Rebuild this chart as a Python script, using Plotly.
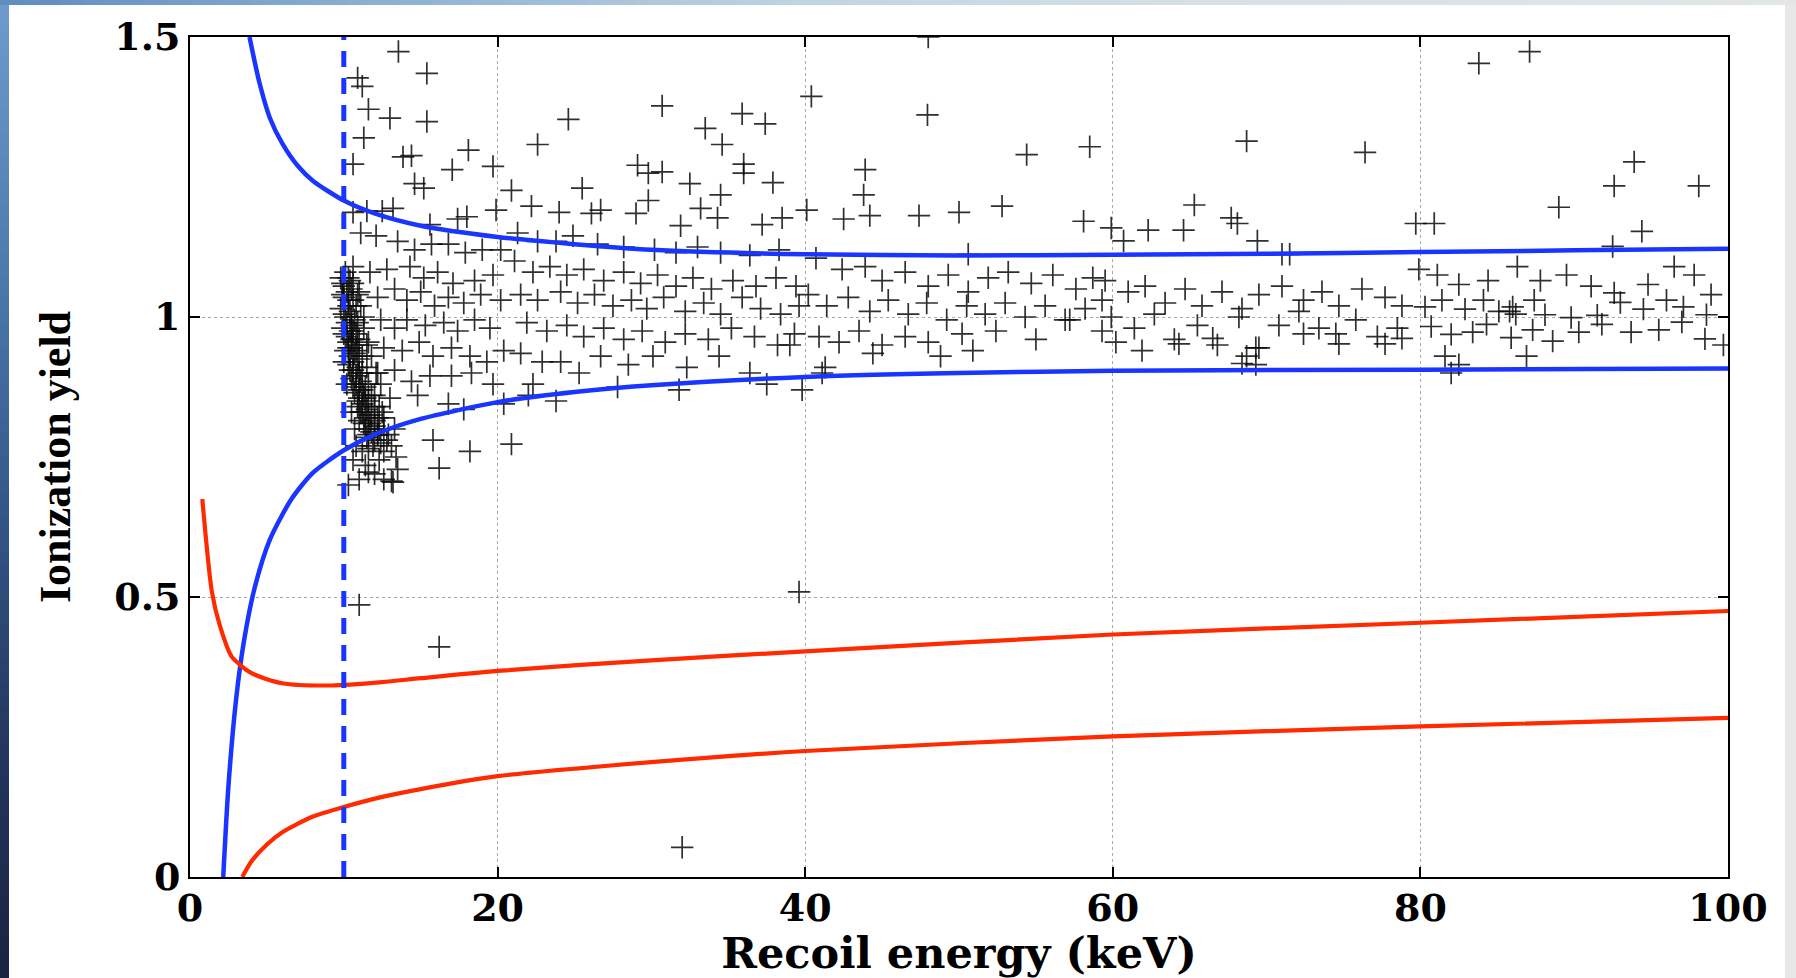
import plotly.graph_objects as go

# ---------------- data ----------------
# events: cluster right above the 10 keV threshold
cluster_e = [10.1,10.3,9.9,10.5,10.2,10.0,10.6,10.3,9.8,10.4,10.1,10.7,10.2,10.5,9.9,10.4,10.8,10.2,10.6,10.3,
             10.9,10.5,10.1,10.7,10.4,11.0,10.6,10.3,10.9,10.6,11.2,10.8,10.5,11.1,10.8,11.4,11.0,10.7,11.3,11.0,
             11.6,11.2,10.9,11.5,11.2,11.8,11.4,11.0,11.7,12.0,11.4,11.8,12.2,11.5,12.0,10.8,11.6,12.4,10.6,11.4,
             12.0,10.3,11.0,12.6,13.2,10.5,10.0,10.2,10.5,10.7,11.8,12.0,12.2,12.6,12.5,12.8,10.9,11.1,11.3,11.5,
             11.8,12.1,12.4,12.2,13.5,11.6,13.1,
             9.8,10.4,10.0,10.6,9.9,10.3,10.8,10.0,10.5,10.9,10.0,10.6,11.0,10.3,10.8,11.2,10.4,11.0,11.5,10.6,
             11.2,11.6,10.9,11.4,12.0,11.1,11.6,12.3,11.3,12.0,12.6,11.6,12.3,12.9,11.9,12.6,13.1,11.2,12.3,13.4]
cluster_y = [1.08,1.07,1.06,1.05,1.045,1.035,1.03,1.02,1.015,1.01,1.0,0.995,0.99,0.985,0.98,0.975,0.97,0.965,0.96,0.955,
             0.95,0.945,0.94,0.935,0.93,0.925,0.92,0.915,0.91,0.905,0.9,0.895,0.89,0.885,0.88,0.875,0.87,0.865,0.86,0.855,
             0.85,0.845,0.84,0.835,0.83,0.825,0.82,0.815,0.81,0.805,0.8,0.795,0.79,0.785,0.78,0.77,0.765,0.775,0.745,0.735,
             0.72,0.7,0.71,0.71,0.705,0.96,0.92,0.88,0.83,0.8,0.86,0.84,0.82,0.8,0.83,0.78,1.04,1.02,0.98,0.95,
             0.93,0.9,0.88,0.789,0.728,0.723,0.707,
             1.07,1.065,1.055,1.06,1.04,1.03,1.02,1.005,1.0,0.99,0.97,0.975,0.96,0.945,0.94,0.93,0.905,0.9,0.91,0.875,
             0.87,0.88,0.85,0.855,0.86,0.83,0.825,0.84,0.81,0.815,0.82,0.79,0.8,0.79,0.77,0.76,0.77,0.76,0.745,0.75]

# events: main band, 10-40 keV
band1_e = [11.1,12.1,13.5,14.6,15.7,16.8,17.9,19.0,20.2,
           10.6,11.7,12.8,14.3,15.2,16.1,17.1,18.5,19.7,
           11.0,12.2,13.3,14.1,15.0,15.9,16.8,17.8,18.9,20.2,
           11.3,12.4,13.3,14.1,15.3,16.5,17.4,18.5,19.5,
           11.6,12.6,13.8,14.9,15.8,17.0,18.2,19.3,20.4,
           12.2,13.3,14.4,15.6,17.0,18.3,19.7,
           13.0,14.8,16.8,17.8,20.4,13.3,15.8,18.2,16.2,20.9,
           21.3,22.6,23.8,24.9,26.5,28.2,30.2,31.6,33.0,34.5,36.4,38.3,
           21.1,22.3,23.4,24.5,25.6,26.9,28.2,29.3,30.4,31.6,32.7,33.9,35.3,36.8,38.1,39.4,
           21.5,22.6,24.1,25.2,26.3,27.5,28.7,29.7,30.8,32.2,33.4,34.5,35.9,37.1,38.4,39.6,
           21.9,23.2,24.5,25.6,26.9,28.2,29.4,30.9,32.2,33.7,35.2,36.7,38.2,39.3,
           21.5,22.9,24.1,25.3,26.7,28.5,30.1,32.3,34.4,36.4,39.0,
           22.3,27.8,31.8,39.8,37.5,22.0,23.8]
band1_y = [1.15,1.145,1.135,1.12,1.13,1.13,1.115,1.12,1.12,
           1.09,1.08,1.085,1.09,1.07,1.08,1.06,1.065,1.075,
           1.045,1.035,1.05,1.03,1.045,1.02,1.035,1.025,1.04,1.03,
           1.0,0.995,0.98,0.995,0.985,0.99,0.975,0.995,0.98,
           0.955,0.945,0.94,0.955,0.93,0.945,0.93,0.92,0.94,
           0.9,0.905,0.885,0.895,0.895,0.9,0.88,
           0.855,0.86,0.845,0.835,0.845,0.8,0.78,0.76,0.73,0.773,
           1.15,1.135,1.135,1.145,1.13,1.125,1.12,1.115,1.125,1.115,1.11,1.12,
           1.1,1.08,1.09,1.075,1.085,1.065,1.08,1.06,1.075,1.055,1.07,1.05,1.065,1.055,1.07,1.055,
           1.04,1.03,1.045,1.025,1.04,1.02,1.03,1.015,1.035,1.01,1.025,1.005,1.035,1.015,1.005,1.02,
           0.99,0.975,0.985,0.965,0.98,0.96,0.975,0.955,0.97,0.96,0.98,0.965,0.95,0.97,
           0.935,0.92,0.92,0.9,0.93,0.915,0.93,0.91,0.93,0.9,0.95,
           0.88,0.875,0.87,0.87,0.88,0.86,0.85]

# events: main band, 40-100 keV
band2_e = [40.7,42.4,43.9,45.0,46.5,48.0,49.3,50.6,51.9,53.2,54.7,56.1,57.6,58.7,
           40.2,41.4,42.8,44.2,45.4,46.7,47.9,49.2,50.5,51.7,53.0,54.3,55.6,56.9,58.2,59.3,
           40.9,42.2,43.5,45.0,46.5,48.0,50.2,52.4,55.0,57.2,59.3,
           41.3,48.8,44.4,50.9,41.1,
           59.5,61.0,62.1,63.4,64.7,65.8,67.1,68.4,69.5,71.0,72.4,73.6,74.7,76.2,77.7,78.8,
           59.9,61.4,62.7,64.0,65.5,66.8,68.2,69.3,70.8,72.1,73.4,74.5,75.8,77.2,78.5,
           60.2,61.9,64.3,66.5,68.7,69.5,72.4,74.7,77.7,78.8,68.4,69.3,
           79.9,81.1,82.5,84.4,86.3,87.8,89.5,91.1,92.6,94.8,96.5,97.8,98.9,
           80.3,81.4,82.9,84.1,85.1,86.0,87.4,88.1,89.8,91.5,93.0,94.5,96.0,97.1,98.6,
           80.7,82.0,83.4,84.3,85.9,87.3,88.6,90.3,91.8,93.7,95.5,97.0,98.5,99.7,
           81.6,82.0,86.9,82.5,85.8,86.2]
band2_y = [1.105,1.085,1.09,1.065,1.08,1.055,1.075,1.045,1.07,1.08,1.06,1.075,1.05,1.07,
           1.04,1.02,1.035,1.01,1.03,1.005,1.025,0.995,1.02,1.005,1.025,1.0,1.02,0.995,1.015,1.03,
           0.965,0.955,0.975,0.95,0.965,0.955,0.97,0.975,0.96,0.995,0.975,
           0.91,0.93,0.935,0.94,0.9,
           1.065,1.045,1.055,1.025,1.05,1.02,1.045,1.015,1.04,1.055,1.03,1.045,1.02,1.05,1.035,1.02,
           1.0,0.98,1.005,0.96,0.985,0.95,1.0,0.945,0.985,1.01,0.98,0.97,0.995,0.965,0.98,
           0.955,0.94,0.952,0.962,0.93,0.945,0.97,0.952,0.952,0.962,0.917,0.915,
           1.085,1.075,1.058,1.065,1.09,1.065,1.075,1.055,1.043,1.058,1.09,1.075,1.04,
           1.018,1.03,1.014,1.03,1.01,1.018,1.03,1.004,0.999,1.003,1.026,1.014,1.03,1.018,1.004,
           0.983,0.969,0.973,0.987,0.963,0.977,0.957,0.973,0.987,0.973,0.977,0.991,0.961,0.95,
           0.93,0.9,0.93,0.915,1.01,1.005]

# events: sparse outliers
outl_e = [13.55,15.4,10.9,11.2,11.6,13.0,15.4,11.3,13.85,14.4,10.6,17.05,18.1,19.7,14.6,15.2,24.6,22.6,20.9,
          30.7,33.5,34.6,35.9,37.4,36.0,36.0,29.1,29.8,30.7,32.5,37.9,40.4,47.95,48.0,43.9,43.8,54.4,58.5,
          68.7,76.4,83.8,87.1,93.9,92.6,98.1,89.0,79.7,80.9,94.4,92.5,
          50.0,52.8,47.4,58.1,59.9,62.3,65.3,64.6,67.7,68.1,69.4,71.0,71.5,60.7,50.6,44.2,42.5,40.1,38.5,
          37.2,34.5,33.2,34.3,31.9,29.8,29.0,26.1,25.5,26.7,22.2,24.0,19.9,17.4,18.0,15.6,11.5,12.5,13.2,10.6,
          11.0,16.2,39.6,32.0]
outl_y = [1.474,1.435,1.427,1.412,1.371,1.355,1.349,1.32,1.286,1.288,1.273,1.263,1.298,1.269,1.238,1.23,1.353,1.308,1.226,
          1.377,1.337,1.308,1.363,1.345,1.273,1.257,1.271,1.257,1.259,1.238,1.24,1.394,1.361,1.5,1.263,1.218,1.29,1.304,
          1.314,1.294,1.453,1.474,1.277,1.234,1.234,1.196,1.167,1.167,1.153,1.126,
          1.187,1.198,1.181,1.171,1.159,1.155,1.2,1.155,1.177,1.167,1.136,1.112,1.112,1.136,1.112,1.181,1.175,1.191,1.177,
          1.165,1.218,1.194,1.177,1.163,1.208,1.185,1.185,1.23,1.191,1.198,1.187,1.191,1.175,1.179,1.165,1.189,1.189,1.194,1.187,
          0.486,0.411,0.509,0.053]

# curves (band edges)
blue_hi_e = [3.87,4.5,5.2,6,7,8,10,12,15,20,25,30,40,50,60,70,80,90,100]
blue_hi_y = [1.5,1.42,1.355,1.31,1.27,1.243,1.208,1.185,1.163,1.143,1.13,1.12,1.112,1.11,1.111,1.113,1.116,1.119,1.122]
blue_lo_e = [2.16,2.5,3.0,3.5,4.2,5.2,6.6,8,10,12,15,20,25,30,40,50,60,80,100]
blue_lo_y = [0.0,0.163,0.318,0.42,0.516,0.603,0.675,0.722,0.762,0.79,0.818,0.848,0.866,0.878,0.893,0.9,0.904,0.906,0.908]
red_hi_e = [0.8,1.43,1.95,2.7,4.0,6.0,9.2,12.5,15,20,30,40,60,80,100]
red_hi_y = [0.675,0.508,0.448,0.394,0.364,0.346,0.342,0.348,0.355,0.368,0.387,0.403,0.433,0.454,0.475]
red_lo_e = [3.4,4,5,6,8,10,12.5,15,20,30,40,60,80,100]
red_lo_y = [0.0,0.028,0.058,0.08,0.108,0.125,0.143,0.157,0.18,0.205,0.225,0.251,0.269,0.284]
threshold_e = [10, 10]
threshold_y = [0, 1.5]

x_ticks = [0, 20, 40, 60, 80, 100]
x_ticktext = ["0", "20", "40", "60", "80", "100"]
y_ticks = [0, 0.5, 1, 1.5]
y_ticktext = ["0", "0.5", "1", "1.5"]

# ---------------- figure ----------------
W, H = 1796, 978
L, R, T, B = 190, 68, 37, 101
BLUE = "#1a35ff"
RED = "#ff2a00"

fig = go.Figure()
ev_e = cluster_e + band1_e + band2_e + outl_e
ev_y = cluster_y + band1_y + band2_y + outl_y
fig.add_trace(go.Scatter(x=ev_e, y=ev_y, mode="markers",
                         marker=dict(symbol="cross-thin", size=16,
                                     line=dict(color="rgba(10,10,10,0.85)", width=1.7)),
                         cliponaxis=True))
for xs, ys, col, w in [(blue_hi_e, blue_hi_y, BLUE, 4.5), (blue_lo_e, blue_lo_y, BLUE, 4.5),
                       (red_hi_e, red_hi_y, RED, 4.2), (red_lo_e, red_lo_y, RED, 4.2)]:
    fig.add_trace(go.Scatter(x=xs, y=ys, mode="lines",
                             line=dict(color=col, width=w, shape="spline", smoothing=0.7)))
fig.add_trace(go.Scatter(x=threshold_e, y=threshold_y, mode="lines",
                         line=dict(color=BLUE, width=5, dash="16px,11px")))

# page decoration: blue gradient strips and grey right border
def px_x(p):
    return (p - L) / (W - L - R)

def px_y(p):
    return (H - B - p) / (H - T - B)

def lerp(c1, c2, t):
    return "rgb(%d,%d,%d)" % tuple(round(a + (b - a) * t) for a, b in zip(c1, c2))

shapes = []
left_stops = [(0, (112, 155, 204)), (250, (80, 125, 176)), (500, (52, 88, 138)), (750, (35, 54, 94)), (978, (26, 35, 64))]
step = 12
for y0 in range(0, H, step):
    y1 = min(H, y0 + step)
    ym = (y0 + y1) / 2
    for (a, ca), (b, cb) in zip(left_stops[:-1], left_stops[1:]):
        if a <= ym <= b:
            col = lerp(ca, cb, (ym - a) / (b - a))
            break
    shapes.append(dict(type="rect", xref="paper", yref="paper", x0=px_x(0), x1=px_x(9),
                       y0=px_y(y1), y1=px_y(y0), fillcolor=col, line=dict(width=0), layer="below"))
top_stops = [(0, (95, 140, 192)), (400, (143, 178, 210)), (800, (192, 212, 226)), (1200, (214, 224, 230)), (1796, (226, 230, 232))]
for x0 in range(0, W, step):
    x1 = min(W, x0 + step)
    xm = (x0 + x1) / 2
    for (a, ca), (b, cb) in zip(top_stops[:-1], top_stops[1:]):
        if a <= xm <= b:
            col = lerp(ca, cb, (xm - a) / (b - a))
            break
    shapes.append(dict(type="rect", xref="paper", yref="paper", x0=px_x(x0), x1=px_x(x1),
                       y0=px_y(5), y1=px_y(0), fillcolor=col, line=dict(width=0), layer="below"))
shapes.append(dict(type="rect", xref="paper", yref="paper", x0=px_x(1785), x1=px_x(W),
                   y0=px_y(H), y1=px_y(5), fillcolor="#e8e8e8", line=dict(width=0), layer="below"))

axis_common = dict(showline=True, linecolor="black", linewidth=2, mirror="ticks",
                   ticks="inside", ticklen=10, tickwidth=1.5, tickcolor="black",
                   showgrid=True, gridcolor="#a8a8a8", griddash="dot", gridwidth=1,
                   zeroline=False,
                   tickfont=dict(family="DejaVu Serif", size=38, color="black", weight="bold"))

fig.update_layout(
    width=W, height=H, margin=dict(l=L, r=R, t=T, b=B, autoexpand=False),
    paper_bgcolor="white", plot_bgcolor="white", showlegend=False,
    shapes=shapes,
    xaxis=dict(range=[0, 100], tickvals=x_ticks, ticktext=x_ticktext, ticklabelstandoff=-4,
               title=dict(text="Recoil energy (keV)", standoff=16,
                          font=dict(family="DejaVu Serif", size=43, color="black", weight="bold")),
               **axis_common),
    yaxis=dict(range=[0, 1.5], tickvals=y_ticks, ticktext=y_ticktext,
               title=dict(text="Ionization yield", standoff=30,
                          font=dict(family="Liberation Serif", size=44, color="black", weight="bold")),
               **axis_common),
)

fig.write_html("out.html")
